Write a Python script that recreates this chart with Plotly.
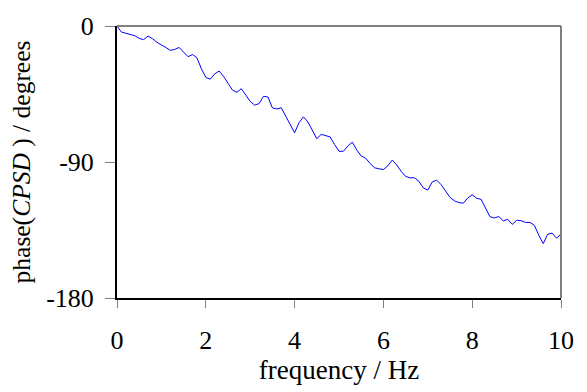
import plotly.graph_objects as go

freq = [round(0.1 * i, 1) for i in range(101)]
phase = [
    0.0, -4.0, -4.8, -5.4, -6.4, -8.2, -9.0, -6.7, -8.4, -10.8,
    -12.8, -14.2, -16.1, -15.5, -14.2, -17.1, -20.3, -18.9, -21.0, -28.3,
    -34.0, -35.2, -31.7, -29.8, -33.3, -37.9, -42.4, -43.9, -41.5, -45.6,
    -49.9, -52.4, -51.3, -46.5, -47.0, -54.2, -54.9, -54.1, -59.6, -65.5,
    -70.7, -63.9, -60.1, -63.5, -69.4, -74.6, -71.7, -72.8, -73.4, -78.4,
    -82.9, -82.9, -79.4, -76.9, -82.0, -86.0, -87.5, -90.9, -93.8, -94.5,
    -95.0, -92.5, -88.7, -92.0, -96.2, -99.5, -100.5, -100.4, -102.8, -107.2,
    -108.6, -103.2, -102.0, -105.0, -109.3, -113.4, -115.7, -116.8, -117.3, -113.8,
    -111.7, -114.0, -114.7, -120.4, -126.2, -127.0, -126.1, -129.0, -127.9, -131.3,
    -128.6, -128.8, -130.0, -130.0, -131.9, -138.5, -144.0, -137.8, -137.1, -140.4,
    -137.7,
]
x_ticks = [0, 2, 4, 6, 8, 10]
y_ticks = [0, -90, -180]
y_ticktext = ["0", "-90", "-180"]

FONT = "Liberation Serif"

fig = go.Figure()
fig.add_trace(go.Scatter(x=freq, y=phase, mode="lines",
                         line=dict(color="#0000ff", width=1), showlegend=False))

fig.update_layout(
    width=587, height=392,
    margin=dict(l=117, r=26, t=20, b=92),
    paper_bgcolor="white", plot_bgcolor="white",
    font=dict(family=FONT, size=26, color="black"),
    shapes=[
        dict(type="line", xref="paper", yref="paper", x0=0, x1=1, y0=1, y1=1,
             line=dict(color="#808080", width=2)),
        dict(type="line", xref="paper", yref="paper", x0=1, x1=1, y0=0, y1=1,
             line=dict(color="#808080", width=2)),
    ],
)
fig.update_xaxes(
    range=[0, 10], tickvals=x_ticks, showgrid=False, zeroline=False,
    showline=True, linecolor="black", linewidth=1.5,
    ticks="outside", ticklen=8, tickcolor="#808080", tickwidth=1,
    tickfont=dict(family=FONT, size=26), ticklabelstandoff=10,
    title=dict(text="frequency / Hz", font=dict(family=FONT, size=27), standoff=6),
)
fig.update_yaxes(
    range=[-180, 0], tickvals=y_ticks, ticktext=y_ticktext,
    showgrid=False, zeroline=False,
    showline=True, linecolor="black", linewidth=2,
    ticks="outside", ticklen=10, tickcolor="#808080", tickwidth=1,
    tickfont=dict(family=FONT, size=26), ticklabelstandoff=6,
    title=dict(text="phase(<i>CPSD</i> ) / degrees", font=dict(family=FONT, size=25.5), standoff=8),
)

fig.write_html("out.html")
